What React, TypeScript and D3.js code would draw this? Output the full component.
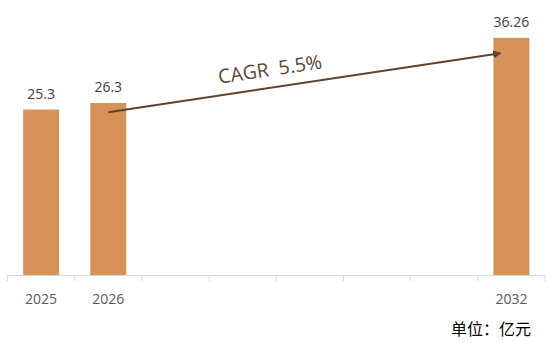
import React from "react";
import * as d3 from "d3";

const categories = ["2025", "2026", "2027", "2028", "2029", "2030", "2031", "2032"];
const values: (number | null)[] = [25.3, 26.3, null, null, null, null, null, 36.26];
const tickLabels = ["2025", "2026", "", "", "", "", "", "2032"];
const cagrText = "CAGR  5.5%";
const unitText = "单位：亿元";
const arrowFrom = { cat: "2026", value: 24.9 };
const arrowTo = { cat: "2032", value: 33.9 };

const W = 554;
const H = 342;
const BAR = "#D59157";
const FONT = "'Open Sans', 'Noto Sans', sans-serif";

export default function App() {
  const x = d3.scaleBand<string>().domain(categories).range([7.5, 545]).paddingInner(0.465).paddingOuter(0.2325);
  const y = d3.scaleLinear().domain([0, 40]).range([275, 13.4]);
  const step = x.step();
  const bw = x.bandwidth();

  const x1 = (x(arrowFrom.cat) as number) + bw / 2;
  const y1 = y(arrowFrom.value);
  const x2 = (x(arrowTo.cat) as number) + 7;
  const y2 = y(arrowTo.value);
  const ang = (Math.atan2(y2 - y1, x2 - x1) * 180) / Math.PI;
  const ticks = d3.range(categories.length + 1).map((i) => 7.5 + i * step);

  return (
    <svg width={W} height={H} style={{ position: "absolute", left: 0, top: 0, background: "#fff" }} fontFamily={FONT}>
      <defs>
        <marker id="ah" viewBox="0 0 10 10" refX="9" refY="5" markerWidth="4" markerHeight="4" orient="auto">
          <path d="M0,0 L10,5 L0,10 z" fill="#5E4330" />
        </marker>
      </defs>
      {categories.map((c, i) =>
        values[i] == null ? null : (
          <rect key={c} x={x(c)} y={y(values[i] as number)} width={bw} height={y(0) - y(values[i] as number)} fill={BAR} />
        )
      )}
      <line x1={7.5} x2={545} y1={y(0) + 0.5} y2={y(0) + 0.5} stroke="#D9D9D9" strokeWidth={1} />
      {ticks.map((t, i) => (
        <line key={i} x1={t} x2={t} y1={y(0)} y2={y(0) + 6} stroke="#D9D9D9" strokeWidth={1} />
      ))}
      {categories.map((c, i) => (
        <text key={c} x={(x(c) as number) + bw / 2} y={304} textAnchor="middle" fontSize={14} fill="#595959">
          {tickLabels[i]}
        </text>
      ))}
      {categories.map((c, i) =>
        values[i] == null ? null : (
          <text key={c} x={(x(c) as number) + bw / 2} y={y(values[i] as number) - 10.5} textAnchor="middle" fontSize={14} fill="#404040">
            {values[i]}
          </text>
        )
      )}
      <line x1={x1} y1={y1} x2={x2} y2={y2} stroke="#5E4330" strokeWidth={2} markerEnd="url(#ah)" />
      <text transform={`translate(271,76) rotate(${ang})`} textAnchor="middle" fontSize={19.5} fill="#5E4330" style={{ whiteSpace: "pre" }}>
        {cagrText}
      </text>
      <text x={531} y={335} textAnchor="end" fontSize={16} fill="#000" fontFamily="'Noto Sans CJK SC', sans-serif">
        {unitText}
      </text>
    </svg>
  );
}
